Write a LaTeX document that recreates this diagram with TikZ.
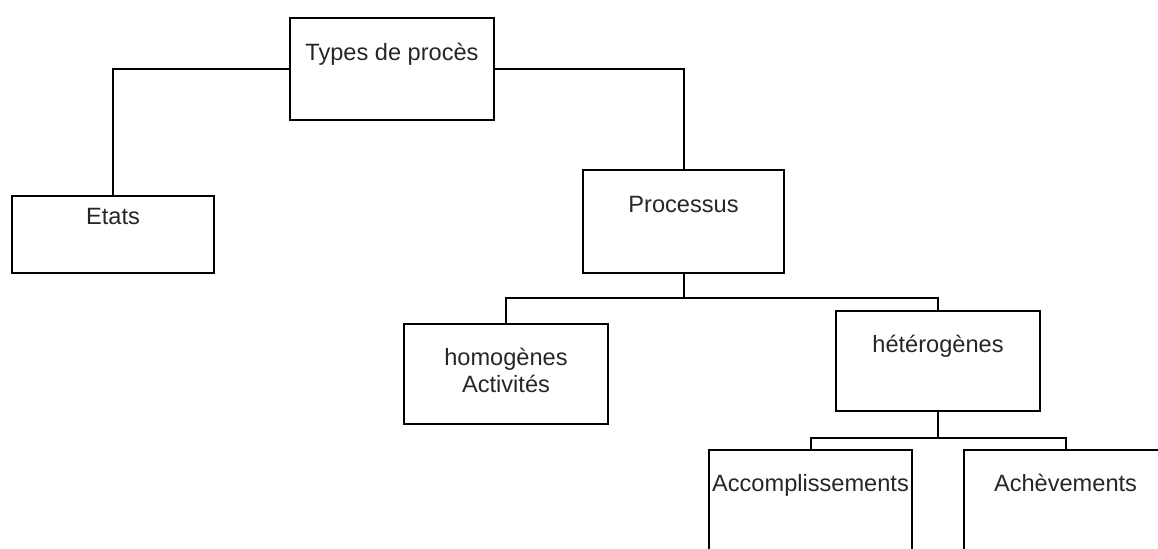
\documentclass[tikz,border=0pt]{standalone}
\usepackage{fontspec}
\setmainfont{Liberation Sans}
\usetikzlibrary{calc}

\begin{document}
\begin{tikzpicture}[x=0.5pt,y=-0.5pt,
  box/.style={draw, line width=1pt, inner sep=0pt, minimum width=102pt, minimum height=50pt},
  lbl/.style={anchor=base, inner sep=0pt, align=center, text=black!85,
    font=\fontsize{11.8}{13.5}\selectfont},
  conn/.style={line width=1pt}]

\useasboundingbox (0,0) rectangle (1158,548);

% top level
\node[box, minimum height=51pt, label={[lbl,yshift=-21.5pt]north:Types de procès}] (types) at (392,69) {};
\node[box, minimum width=101pt, minimum height=38.5pt, label={[lbl,yshift=-14.5pt]north:Etats}] (etats) at (113,234.5) {};
\node[box, minimum width=100.5pt, minimum height=51.5pt, label={[lbl,yshift=-21.5pt]north:Processus}] (proc) at (683.5,221.5) {};

% processus
\node[box, label={[lbl,yshift=-34.5pt]north:homogènes\\Activités}] (homo) at (506,374) {};
\node[box, label={[lbl,yshift=-21pt]north:hétérogènes}] (hetero) at (938,361) {};

% hétérogènes
\node[box, minimum width=101.5pt, minimum height=55pt, label={[lbl,yshift=-21pt]north:Accomplissements}] (accomp) at (810.5,505) {};
\node[box, minimum width=101.5pt, minimum height=55pt, label={[lbl,yshift=-21pt]north:Achèvements}] (achev) at (1065.5,505) {};

\draw[conn] (types.west) -| (etats.north);
\draw[conn] (types.east) -| (proc.north);

\coordinate (j1) at ($(proc.south)+(0,24)$);
\draw[conn] (proc.south) -- (j1);
\draw[conn] (homo.north) |- (j1) -| (hetero.north);

\coordinate (j2) at ($(hetero.south)+(0,26)$);
\draw[conn] (hetero.south) -- (j2);
\draw[conn] (accomp.north) |- (j2) -| (achev.north);

\end{tikzpicture}
\end{document}
